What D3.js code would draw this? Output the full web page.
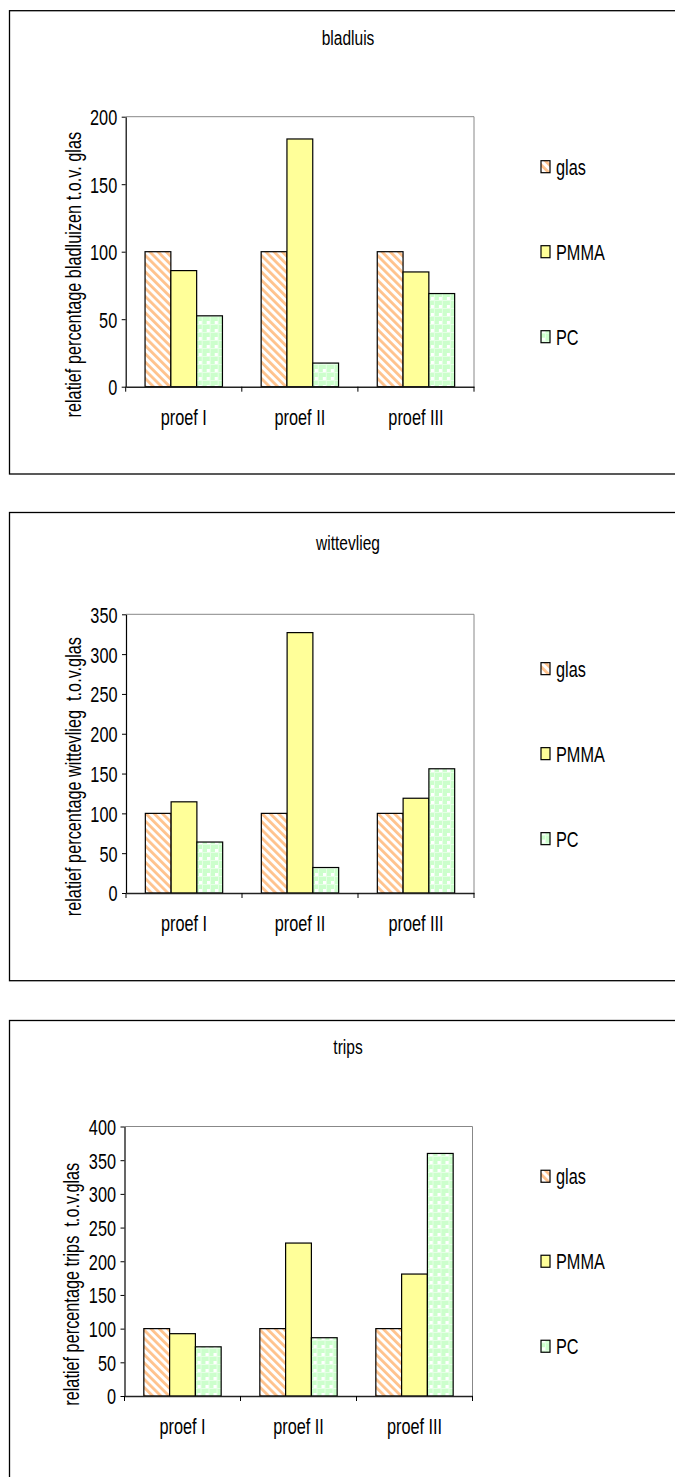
<!DOCTYPE html>
<html>
<head>
<meta charset="utf-8">
<script src="https://cdn.jsdelivr.net/npm/d3@7/dist/d3.min.js"></script>
<style>
  html, body { margin: 0; padding: 0; background: #fff; }
  svg text { font-family: "Liberation Sans", Arial, sans-serif; fill: #000; }
</style>
</head>
<body>
<svg id="chart" width="675" height="1477"></svg>
<script>
// ---------- DATA ----------
const categories = ["proef I", "proef II", "proef III"];
const seriesNames = ["glas", "PMMA", "PC"];

const bladluisGlas = [100, 100, 100];
const bladluisPMMA = [86, 183.5, 85];
const bladluisPC   = [52.5, 17.5, 69];

const wittevliegGlas = [100, 100, 100];
const wittevliegPMMA = [114.5, 327, 119];
const wittevliegPC   = [64, 32, 156];

const tripsGlas = [100, 100, 100];
const tripsPMMA = [92.5, 227, 181];
const tripsPC   = [73, 86.5, 360];

const chartTitles = ["bladluis", "wittevlieg", "trips"];
const yTitles = [
  "relatief percentage bladluizen t.o.v. glas",
  "relatief percentage wittevlieg  t.o.v.glas",
  "relatief percentage trips  t.o.v.glas"
];
const yMaxes = [200, 350, 400];
const yStep = 50;

// ---------- LAYOUT ----------
const layouts = [
  { frameTop: 10.7, frameBottom: 474,  plotTop: 116.7, plotBottom: 386.7, left: 125.7, right: 474,   titleY: 38,   yTitleX: 73 },
  { frameTop: 512.5, frameBottom: 980.7, plotTop: 614.3, plotBottom: 893,  left: 126,   right: 474,   titleY: 543,  yTitleX: 73 },
  { frameTop: 1020.5, frameBottom: 1500, plotTop: 1126.5, plotBottom: 1396, left: 124.5, right: 472.5, titleY: 1047, yTitleX: 71 }
];
const frameLeft = 9.5;
const SX = 0.74;      // horizontal condensing of the narrow font
const FS = 22;        // font size

const svg = d3.select("#chart");
const defs = svg.append("defs");

// glas: wide downward diagonal orange stripes
const pg = defs.append("pattern").attr("id", "pGlas")
  .attr("patternUnits", "userSpaceOnUse").attr("width", 5.8).attr("height", 5.8)
  .attr("patternTransform", "rotate(-45)");
pg.append("rect").attr("width", 5.8).attr("height", 5.8).attr("fill", "#ffffff");
pg.append("rect").attr("x", 0).attr("width", 2.8).attr("height", 5.8).attr("fill", "#ffc28c");

// PC: light green checker/plaid
const pc = defs.append("pattern").attr("id", "pPC")
  .attr("patternUnits", "userSpaceOnUse").attr("width", 8).attr("height", 8);
pc.append("rect").attr("width", 8).attr("height", 8).attr("fill", "#ccffcc");
pc.append("rect").attr("x", 0).attr("y", 4).attr("width", 8).attr("height", 1).attr("fill", "#e6ffe6");
pc.append("rect").attr("x", 4).attr("y", 0).attr("width", 1).attr("height", 8).attr("fill", "#e6ffe6");
pc.append("rect").attr("x", 1).attr("y", 1).attr("width", 3).attr("height", 3).attr("fill", "#ffffff");

const fills = { glas: "url(#pGlas)", PMMA: "#ffff99", PC: "url(#pPC)" };

const allData = [
  [bladluisGlas, bladluisPMMA, bladluisPC],
  [wittevliegGlas, wittevliegPMMA, wittevliegPC],
  [tripsGlas, tripsPMMA, tripsPC]
];

function condText(parent, x, y, str, anchor, size, rot) {
  return parent.append("text")
    .attr("transform", `translate(${x},${y})${rot ? " rotate(" + rot + ")" : ""} scale(${SX},1)`)
    .attr("text-anchor", anchor).attr("dominant-baseline", "central")
    .style("font-size", size + "px").style("white-space", "pre")
    .text(str);
}

allData.forEach((seriesVals, ci) => {
  const L = layouts[ci];
  const g = svg.append("g");

  // frame
  g.append("rect")
    .attr("x", frameLeft).attr("y", L.frameTop)
    .attr("width", 720).attr("height", L.frameBottom - L.frameTop)
    .attr("fill", "none").attr("stroke", "#000").attr("stroke-width", 1.3);

  // title
  condText(g, 348, L.titleY, chartTitles[ci], "middle", 21);

  const x0 = d3.scaleBand().domain(categories).range([L.left, L.right]).paddingInner(0).paddingOuter(0);
  const x1 = d3.scaleBand().domain(seriesNames).range([0, x0.bandwidth()]).paddingInner(0).paddingOuter(0.75);
  const y = d3.scaleLinear().domain([0, yMaxes[ci]]).range([L.plotBottom, L.plotTop]);

  // plot area border (top/right grey)
  g.append("path")
    .attr("d", `M${L.left},${y(yMaxes[ci])}H${L.right}V${y(0)}`)
    .attr("fill", "none").attr("stroke", "#888").attr("stroke-width", 1);

  // bars
  const rows = categories.map((c, i) => ({ cat: c, vals: seriesNames.map((s, j) => ({ s, v: seriesVals[j][i] })) }));
  const grp = g.selectAll(".grp").data(rows).enter().append("g")
    .attr("transform", d => `translate(${x0(d.cat)},0)`);
  grp.selectAll("rect").data(d => d.vals).enter().append("rect")
    .attr("x", d => x1(d.s)).attr("y", d => y(d.v))
    .attr("width", x1.bandwidth()).attr("height", d => y(0) - y(d.v))
    .attr("fill", d => fills[d.s]).attr("stroke", "#000").attr("stroke-width", 1.2);

  // y axis
  const yAxis = g.append("g").attr("transform", `translate(${L.left},0)`)
    .call(d3.axisLeft(y).tickValues(d3.range(0, yMaxes[ci] + 1, yStep)).tickSize(4).tickPadding(5).tickSizeOuter(0));
  yAxis.select(".domain").attr("stroke", "#000").attr("stroke-width", 1.2);
  yAxis.selectAll(".tick line").attr("stroke", "#000");
  yAxis.selectAll(".tick text")
    .attr("x", 0).attr("dy", null).attr("dominant-baseline", "central")
    .attr("transform", `translate(-8.5,0) scale(${SX},1)`)
    .style("font-size", FS + "px").attr("fill", "#000");

  // x axis
  const xAxis = g.append("g").attr("transform", `translate(0,${y(0)})`)
    .call(d3.axisBottom(x0).tickSize(0).tickPadding(0).tickSizeOuter(0));
  xAxis.select(".domain").attr("stroke", "#222").attr("stroke-width", 1.6);
  xAxis.selectAll(".tick text")
    .attr("y", 0).attr("dy", null).attr("dominant-baseline", "central")
    .attr("transform", `translate(0,30) scale(${SX},1)`)
    .style("font-size", FS + "px").attr("fill", "#000");
  const boundaries = categories.map(c => x0(c)).concat([x0.range()[1]]);
  xAxis.selectAll(".bt").data(boundaries).enter().append("line")
    .attr("x1", d => d).attr("x2", d => d).attr("y1", 0).attr("y2", 5)
    .attr("stroke", "#000").attr("stroke-width", 1);

  // y title
  const yc = (L.plotTop + L.plotBottom) / 2 + 23;
  condText(g, L.yTitleX, yc, yTitles[ci], "middle", FS, -90);

  // legend
  const lc = (L.plotTop + L.plotBottom) / 2;
  const leg = g.selectAll(".leg").data(seriesNames).enter().append("g")
    .attr("transform", (d, i) => `translate(541,${lc + (i - 1) * 85})`);
  leg.append("rect").attr("x", 0).attr("y", -6).attr("width", 9).attr("height", 12)
    .attr("fill", d => fills[d]).attr("stroke", "#000").attr("stroke-width", 1.2);
  leg.each(function (d) { condText(d3.select(this), 15, 0, d, "start", FS); });
});
</script>
</body>
</html>
